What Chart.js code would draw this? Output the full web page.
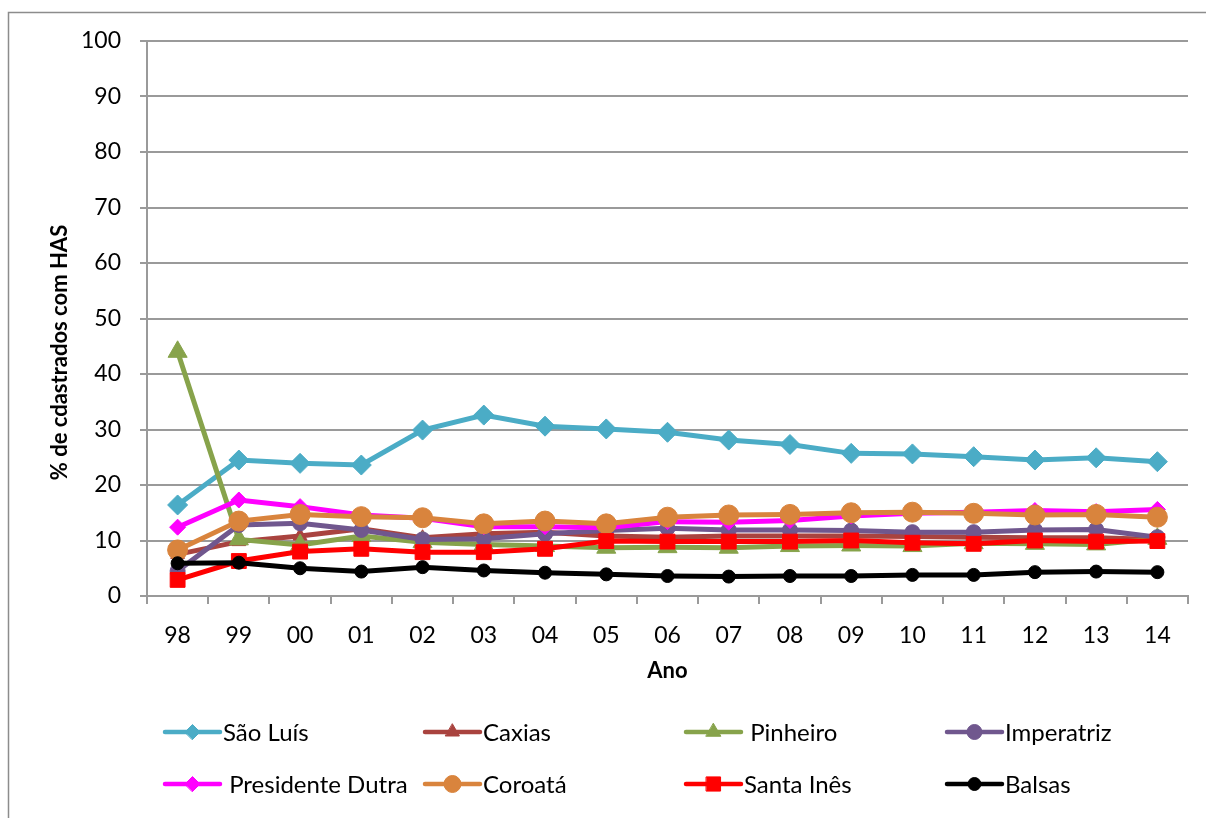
<!DOCTYPE html>
<html>
<head>
<meta charset="utf-8">
<script src="https://cdn.jsdelivr.net/npm/chart.js@4/dist/chart.umd.min.js"></script>
<style>
  html, body { margin: 0; padding: 0; background: #fff; }
  #wrap { width: 1206px; height: 818px; }
</style>
</head>
<body>
<div id="wrap"><canvas id="c" width="1206" height="818"></canvas></div>
<script>
// Years (two-digit labels) on the category axis
const anos = ['98','99','00','01','02','03','04','05','06','07','08','09','10','11','12','13','14'];

// Percentage of registered patients with hypertension, per municipality
const saoLuis   = [16.4, 24.5, 23.9, 23.6, 29.9, 32.6, 30.6, 30.1, 29.5, 28.1, 27.3, 25.7, 25.6, 25.1, 24.5, 24.9, 24.2];
const caxias    = [7.5, 9.8, 10.8, 12.1, 10.5, 11.2, 11.5, 10.8, 10.6, 10.8, 10.8, 10.8, 10.7, 10.6, 10.5, 10.5, 10.2];
const pinheiro  = [44.0, 10.2, 9.2, 10.8, 9.7, 9.3, 9.0, 8.7, 8.8, 8.7, 9.0, 9.1, 9.0, 9.5, 9.4, 9.3, 10.3];
const imperatriz = [4.5, 12.8, 13.1, 11.9, 10.2, 10.3, 11.2, 11.8, 12.2, 11.9, 11.9, 11.8, 11.5, 11.5, 11.9, 12.0, 10.6];
const presDutra = [12.4, 17.3, 16.1, 14.6, 14.0, 12.5, 12.5, 12.3, 13.4, 13.3, 13.6, 14.4, 14.9, 15.1, 15.4, 15.2, 15.6];
const coroata   = [8.3, 13.5, 14.7, 14.3, 14.1, 13.0, 13.5, 13.0, 14.2, 14.6, 14.7, 15.0, 15.1, 14.9, 14.6, 14.7, 14.2];
const santaInes = [2.9, 6.3, 8.0, 8.5, 7.9, 7.9, 8.5, 9.9, 9.8, 9.8, 9.8, 10.0, 9.6, 9.4, 10.0, 9.8, 9.9];
const balsas    = [5.9, 6.0, 5.0, 4.4, 5.2, 4.6, 4.2, 3.9, 3.6, 3.5, 3.6, 3.6, 3.8, 3.8, 4.3, 4.4, 4.3];

// Y axis ticks
const yTicks = [0, 10, 20, 30, 40, 50, 60, 70, 80, 90, 100];

const FONT = 'Lato, "Open Sans", "Liberation Sans", sans-serif';

const series = [
  { label: 'São Luís',          data: saoLuis,    color: '#4BACC6', style: 'rectRot',  r: 10,   lr: 7.5 },
  { label: 'Caxias',            data: caxias,     color: '#A9433F', style: 'triangle', r: 8,    lr: 8 },
  { label: ' Pinheiro',         data: pinheiro,   color: '#87A34B', style: 'triangle', r: 11,   lr: 8.5 },
  { label: 'Imperatriz',        data: imperatriz, color: '#70578E', style: 'circle',   r: 7.5,  lr: 7.5 },
  { label: ' Presidente Dutra', data: presDutra,  color: '#FF00FF', style: 'rectRot',  r: 8,    lr: 7.5 },
  { label: 'Coroatá',           data: coroata,    color: '#D9843D', style: 'circle',   r: 10,   lr: 8.5 },
  { label: 'Santa Inês',        data: santaInes,  color: '#FF0000', style: 'rect',     r: 10.5, lr: 10 },
  { label: 'Balsas',            data: balsas,     color: '#000000', style: 'circle',   r: 6.5,  lr: 6.5 }
];

// Frame, axis titles and two-row legend drawn around the plot
const decorations = {
  id: 'decorations',
  beforeDraw(chart) {
    const ctx = chart.ctx;
    ctx.save();
    ctx.fillStyle = '#fff';
    ctx.fillRect(0, 0, chart.width, chart.height);
    ctx.strokeStyle = '#8c8c8c';
    ctx.lineWidth = 1.5;
    ctx.strokeRect(8.5, 12.5, chart.width + 20, chart.height + 20);
    ctx.restore();
  },
  afterDraw(chart) {
    const ctx = chart.ctx;
    const area = chart.chartArea;
    ctx.save();
    ctx.fillStyle = '#000';
    ctx.font = 'bold 22px ' + FONT;
    ctx.textAlign = 'center';
    ctx.textBaseline = 'middle';
    // x title
    ctx.fillText('Ano', (area.left + area.right) / 2, 671);
    // y title
    ctx.translate(60, (area.top + area.bottom) / 2 + 34);
    ctx.rotate(-Math.PI / 2);
    ctx.fillText('% de cdastrados com HAS', 0, 0);
    ctx.restore();

    // legend
    const colX = [165, 425, 686, 947];
    const rowY = [732, 784];
    const lineLen = 55;
    ctx.save();
    ctx.font = '24px ' + FONT;
    ctx.textBaseline = 'middle';
    ctx.textAlign = 'left';
    chart.data.datasets.forEach((ds, i) => {
      const x0 = colX[i % 4];
      const y = rowY[Math.floor(i / 4)];
      ctx.strokeStyle = ds.borderColor;
      ctx.lineWidth = 4.5;
      ctx.lineCap = 'round';
      ctx.beginPath();
      ctx.moveTo(x0, y);
      ctx.lineTo(x0 + lineLen, y);
      ctx.stroke();
      ctx.fillStyle = ds.pointBackgroundColor;
      ctx.strokeStyle = ds.pointBorderColor;
      ctx.lineWidth = 1;
      Chart.helpers.drawPoint(ctx, {
        pointStyle: ds.pointStyle,
        radius: series[i].lr,
        rotation: 0,
        borderWidth: 1
      }, x0 + lineLen / 2, y);
      ctx.fillStyle = '#000';
      ctx.fillText(ds.label, x0 + lineLen + 3, y + 1);
    });
    ctx.restore();
  }
};

new Chart(document.getElementById('c'), {
  type: 'line',
  data: {
    labels: anos,
    datasets: series.map((s, i) => ({
      label: s.label,
      data: s.data,
      borderColor: s.color,
      backgroundColor: s.color,
      pointBackgroundColor: s.color,
      pointBorderColor: s.color,
      pointStyle: s.style,
      pointRadius: s.r,
      pointHoverRadius: s.r,
      pointBorderWidth: 1,
      borderWidth: 5,
      tension: 0,
      fill: false,
      order: series.length - i
    }))
  },
  options: {
    responsive: false,
    animation: false,
    devicePixelRatio: 1,
    layout: { padding: { left: 0, top: 41, right: 18, bottom: 0 } },
    plugins: {
      legend: { display: false },
      tooltip: { enabled: false },
      title: { display: false }
    },
    scales: {
      x: {
        type: 'category',
        offset: true,
        afterFit(scale) { scale.height = 222; },
        grid: {
          display: true,
          offset: true,
          drawOnChartArea: false,
          drawTicks: true,
          tickLength: 8,
          color: '#9a9a9a',
          lineWidth: 2
        },
        border: { display: true, color: '#9a9a9a', width: 2 },
        ticks: {
          color: '#000',
          font: { family: FONT, size: 23 },
          padding: 18,
          maxRotation: 0,
          autoSkip: false
        }
      },
      y: {
        min: 0,
        max: 100,
        afterFit(scale) { scale.width = 147; },
        afterBuildTicks(scale) { scale.ticks = yTicks.map(v => ({ value: v })); },
        grid: {
          color: '#9a9a9a',
          lineWidth: 2,
          drawTicks: true,
          tickLength: 7
        },
        border: { display: true, color: '#9a9a9a', width: 2 },
        ticks: {
          color: '#000',
          font: { family: FONT, size: 23 },
          padding: 19
        }
      }
    }
  },
  plugins: [decorations]
});
</script>
</body>
</html>
